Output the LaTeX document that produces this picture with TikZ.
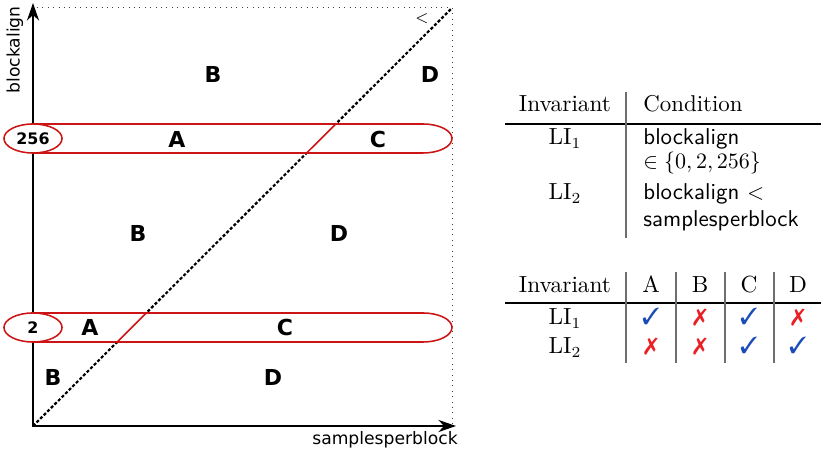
\documentclass[tikz,border=0pt]{standalone}
\usepackage{fontspec}
\usepackage{pifont}
\usetikzlibrary{arrows.meta,shapes.geometric,calc}
\newfontfamily\djv{DejaVu Sans}
\definecolor{bandred}{RGB}{204,20,20}
\definecolor{chkblue}{RGB}{25,75,185}
\definecolor{xred}{RGB}{235,30,35}
\definecolor{rulegray}{RGB}{110,110,110}
\newcommand{\cmark}{\textcolor{chkblue}{\ding{51}}}
\newcommand{\xmark}{\textcolor{xred}{\ding{55}}}
\begin{document}
\begin{tikzpicture}[x=0.4545pt,y=-0.4545pt,
 axis/.style={line width=1pt,{Stealth[length=8pt,width=5.5pt]}-{Stealth[length=8pt,width=5.5pt]}},
 framel/.style={dotted,line width=0.45pt,black!75},
 diag/.style={line width=1pt,dash pattern=on 1.4pt off 0.9pt},
 band/.style={draw=bandred,line width=0.7pt},
 lbl/.style={font=\djv\bfseries\fontsize{10}{11}\selectfont, inner sep=0pt},
 ax/.style={font=\djv\fontsize{7.8}{9}\selectfont, inner sep=0pt},
 ell/.style={ellipse,draw=bandred,fill=white,line width=0.7pt,minimum width=26.4pt,minimum height=13.2pt,inner sep=0pt,font=\djv\bfseries\fontsize{7.2}{8}\selectfont},
 tb/.style={anchor=base,inner sep=0pt,font=\fontsize{10.6}{12.7}\selectfont},
 tbl/.style={anchor=base west,inner sep=0pt,font=\fontsize{10.4}{12.5}\selectfont},
 hrule/.style={line width=0.5pt},
 vrule/.style={line width=0.6pt,rulegray},
]
\useasboundingbox (0,0) rectangle (821,455);
% coordinates
\coordinate (O) at (33,426);
\coordinate (ytip) at (33,3);
\coordinate (xtip) at (456,426);
\coordinate (TL) at (37,8);
\coordinate (TR) at (452,8);
\coordinate (BR) at (452,424);
% frame and diagonal
\draw[framel] (TL) -- (TR) -- (BR);
\draw[diag] (O) -- (TR);
% band 256
\fill[white] (33,124) -- (423,124) arc[start angle=90,end angle=-90,x radius=13.18pt,y radius=6.59pt] -- (33,153) -- cycle;
\draw[band] (33,124) -- (423,124) arc[start angle=90,end angle=-90,x radius=13.18pt,y radius=6.59pt] -- (33,153);
\draw[band] ($(O)!0.6531!(TR)$) -- ($(O)!0.7225!(TR)$);
% band 2
\fill[white] (33,313) -- (423,313) arc[start angle=90,end angle=-90,x radius=13.18pt,y radius=6.59pt] -- (33,342) -- cycle;
\draw[band] (33,313) -- (423,313) arc[start angle=90,end angle=-90,x radius=13.18pt,y radius=6.59pt] -- (33,342);
\draw[band] ($(O)!0.2010!(TR)$) -- ($(O)!0.2703!(TR)$);
% axes
\draw[axis] (ytip) -- (O) -- (xtip);
\node[ell] (e256) at (33,138.5) {256};
\node[ell] (e2) at (33,327.5) {2};
\node[ax,rotate=90] (ylab) at (15,50) {blockalign};
\node[ax] (xlab) at (385,440) {samplesperblock};
\node[inner sep=0pt,font=\fontsize{7}{8}\selectfont] (lt) at (422,19) {$<$};
% region labels
\node[lbl] (r1) at (213,74) {B};
\node[lbl] (r2) at (430,74) {D};
\node[lbl] (r3) at (177,139) {A};
\node[lbl] (r4) at (378,139) {C};
\node[lbl] (r5) at (138,233) {B};
\node[lbl] (r6) at (339,233) {D};
\node[lbl] (r7) at (90,327) {A};
\node[lbl] (r8) at (285,327) {C};
\node[lbl] (r9) at (53,377) {B};
\node[lbl] (r10) at (273,377) {D};
% table 1
\node[tb] (t1h1) at (565,112) {Invariant};
\node[tbl] (t1h2) at (643,112) {Condition};
\draw[hrule] (505,124) -- (821,124);
\draw[vrule] (626,92) -- (626,238);
\node[tb] (t1r1) at (565,145) {$\mathrm{LI}_1$};
\node[tb] (t1r2) at (565,200) {$\mathrm{LI}_2$};
\node[tbl] (t1c1) at (643,145) {\sffamily blockalign};
\node[tbl] (t1c2) at (643,169) {$\in\{0,2,256\}$};
\node[tbl] (t1c3) at (643,200) {\sffamily blockalign $<$};
\node[tbl] (t1c4) at (643,227) {\sffamily samplesperblock};
% table 2
\node[tb] (t2h0) at (565,293) {Invariant};
\node[tb] (t2hA) at (651,293) {A};
\node[tb] (t2hB) at (700,293) {B};
\node[tb] (t2hC) at (749,293) {C};
\node[tb] (t2hD) at (798,293) {D};
\draw[hrule] (505,303) -- (821,303);
\foreach \xx in {626,676,725,774} \draw[vrule] (\xx,272) -- (\xx,363);
\node[tb] (t2r1) at (565,325) {$\mathrm{LI}_1$};
\node[tb] (t2r2) at (565,354) {$\mathrm{LI}_2$};
\node[tb] (m11) at (651,325) {\cmark};
\node[tb] (m12) at (700,325) {\xmark};
\node[tb] (m13) at (749,325) {\cmark};
\node[tb] (m14) at (798,325) {\xmark};
\node[tb] (m21) at (651,354) {\xmark};
\node[tb] (m22) at (700,354) {\xmark};
\node[tb] (m23) at (749,354) {\cmark};
\node[tb] (m24) at (798,354) {\cmark};
\end{tikzpicture}
\end{document}
